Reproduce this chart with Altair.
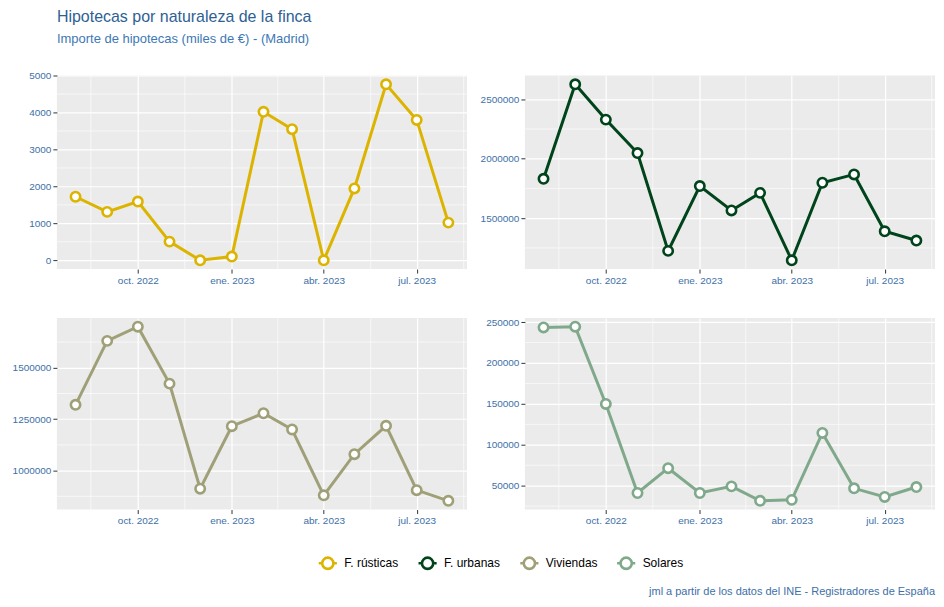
import altair as alt
import pandas as pd

# ---------------- data ----------------
meses = ["2022-08-01", "2022-09-01", "2022-10-01", "2022-11-01", "2022-12-01",
         "2023-01-01", "2023-02-01", "2023-03-01", "2023-04-01", "2023-05-01",
         "2023-06-01", "2023-07-01", "2023-08-01"]

series = ["F. rústicas", "F. urbanas", "Viviendas", "Solares"]
colores = ["#DCB400", "#00441B", "#A0A078", "#7FA98A"]

rusticas = [1720, 1310, 1590, 505, 0, 100, 4020, 3550, 0, 1945, 4765, 3800, 1020]
urbanas = [1831000, 2626000, 2329000, 2048000, 1225000, 1770000, 1565000,
           1713000, 1146000, 1798000, 1868000, 1390000, 1312000]
viviendas = [1320000, 1631000, 1700000, 1423000, 912000, 1216000, 1279000,
             1200000, 880000, 1080000, 1218000, 905000, 853000]
solares = [243500, 244400, 150000, 41100, 71400, 41100, 49200, 31500, 32700,
           114500, 46800, 36300, 48400]

ticks_rusticas = [0, 1000, 2000, 3000, 4000, 5000]
minor_rusticas = [500, 1500, 2500, 3500, 4500]
ticks_urbanas = [1500000, 2000000, 2500000]
minor_urbanas = [1250000, 1750000, 2250000]
ticks_viviendas = [1000000, 1250000, 1500000]
minor_viviendas = [875000, 1125000, 1375000, 1625000]
ticks_solares = [50000, 100000, 150000, 200000, 250000]
minor_solares = [25000, 75000, 125000, 175000, 225000]

x_major = ["2022-10-01", "2023-01-01", "2023-04-01", "2023-07-01"]
x_minor = ["2022-08-16", "2022-11-16", "2023-02-15", "2023-05-17", "2023-08-16"]
nombres_mes = ["ene.", "feb.", "mar.", "abr.", "may.", "jun.", "jul.", "ago.",
               "sept.", "oct.", "nov.", "dic."]

titulo = "Hipotecas por naturaleza de la finca"
subtitulo = "Importe de hipotecas (miles de €) - (Madrid)"
nota = "jml a partir de los datos del INE - Registradores de España"

# ---------------- styling ----------------
FONT = "Liberation Sans"
AXIS_COLOR = "#3D6FA8"
PANEL_W = 411
Y_EXT = 49
X_EXT = 20


def to_dt(ts):
    ts = pd.Timestamp(ts)
    return alt.DateTime(year=ts.year, month=ts.month, date=ts.day,
                        hours=ts.hour, minutes=ts.minute)


fechas = pd.to_datetime(meses)
span = fechas.max() - fechas.min()
x_domain = [to_dt(fechas.min() - 0.05 * span), to_dt(fechas.max() + 0.05 * span)]

label_expr = ("[" + ",".join("'%s'" % m for m in nombres_mes) + "][month(datum.value)]"
              " + ' ' + year(datum.value)")

path = ("M-1,0L-0.62,0M0.62,0L1,0M0.62,0A0.62,0.62,0,1,1,-0.62,0"
        "A0.62,0.62,0,1,1,0.62,0Z")

legend = alt.Legend(title=None, orient="none", legendX=261, legendY=478,
                    direction="horizontal", symbolType=path, symbolSize=330,
                    symbolStrokeWidth=2.6, symbolFillColor="white",
                    labelFontSize=12, labelColor="black", labelFont=FONT,
                    columnPadding=14, labelOffset=6)

stroke_scale = alt.Scale(domain=series, range=colores)

x_axis = alt.Axis(title=None, values=[to_dt(d) for d in x_major],
                  labelExpr=label_expr, grid=True, gridColor="white",
                  gridWidth=1.2, domain=False, tickColor="#333333",
                  tickSize=4, labelPadding=2, labelFontSize=10,
                  labelFont=FONT, labelColor=AXIS_COLOR,
                  minExtent=X_EXT, maxExtent=X_EXT)


def y_axis(ticks):
    return alt.Axis(title=None, values=ticks, format="d", grid=True,
                    gridColor="white", gridWidth=1.2, domain=False,
                    tickColor="#333333", tickSize=4, labelPadding=2,
                    labelFontSize=10, labelFont=FONT,
                    labelColor=AXIS_COLOR, minExtent=Y_EXT,
                    maxExtent=Y_EXT)


def panel(nombre, valores, ticks, minor, height, caption=False):
    df = pd.DataFrame({"fecha": [m + "T00:00:00" for m in meses],
                       "valor": valores, "serie": nombre})
    vmin, vmax = min(valores), max(valores)
    r = vmax - vmin
    y_scale = alt.Scale(domain=[vmin - 0.05 * r, vmax + 0.05 * r],
                        nice=False, zero=False)
    x_scale = alt.Scale(domain=x_domain)
    yax = y_axis(ticks)

    gx = alt.Chart(pd.DataFrame({"fecha": [d + "T00:00:00" for d in x_minor]})).mark_rule(
        color="white", strokeWidth=0.6).encode(
        x=alt.X("fecha:T", scale=x_scale, axis=x_axis))
    gy = alt.Chart(pd.DataFrame({"valor": minor})).mark_rule(
        color="white", strokeWidth=0.6).encode(
        y=alt.Y("valor:Q", scale=y_scale, axis=yax))

    base = alt.Chart(df).encode(
        x=alt.X("fecha:T", scale=x_scale, axis=x_axis),
        y=alt.Y("valor:Q", scale=y_scale, axis=yax),
        stroke=alt.Stroke("serie:N", scale=stroke_scale, legend=legend))
    line = base.mark_line(strokeWidth=3)
    pts = base.mark_circle(size=88, fill="white", fillOpacity=1, opacity=1,
                           strokeWidth=2.6)
    layers = [gx, gy, line, pts]
    if caption:
        cap = alt.Chart(pd.DataFrame({"t": [nota]})).mark_text(
            align="right", baseline="middle", fontSize=11, font=FONT,
            color=AXIS_COLOR).encode(text="t:N", x=alt.value(PANEL_W),
                                     y=alt.value(275))
        layers.append(cap)
    return alt.layer(*layers).properties(width=PANEL_W, height=height)


p1 = panel(series[0], rusticas, ticks_rusticas, minor_rusticas, 194)
p2 = panel(series[1], urbanas, ticks_urbanas, minor_urbanas, 194)
p3 = panel(series[2], viviendas, ticks_viviendas, minor_viviendas, 192)
p4 = panel(series[3], solares, ticks_solares, minor_solares, 192, caption=True)

chart = alt.vconcat(
    alt.hconcat(p1, p2, spacing=8),
    alt.hconcat(p3, p4, spacing=8),
    spacing=27,
).properties(
    padding=0,
    title=alt.TitleParams(text=titulo, subtitle=subtitulo, anchor="start",
                          frame="bounds", dx=49, dy=-2, font=FONT, fontSize=16,
                          fontWeight="normal", color="#2E6193",
                          subtitleFont=FONT, subtitleFontSize=13,
                          subtitleColor="#3D78B5", subtitlePadding=8,
                          offset=23),
).configure_view(fill="#EBEBEB", strokeWidth=0)

chart.save("out.html", embed_options={"renderer": "svg", "actions": False})
